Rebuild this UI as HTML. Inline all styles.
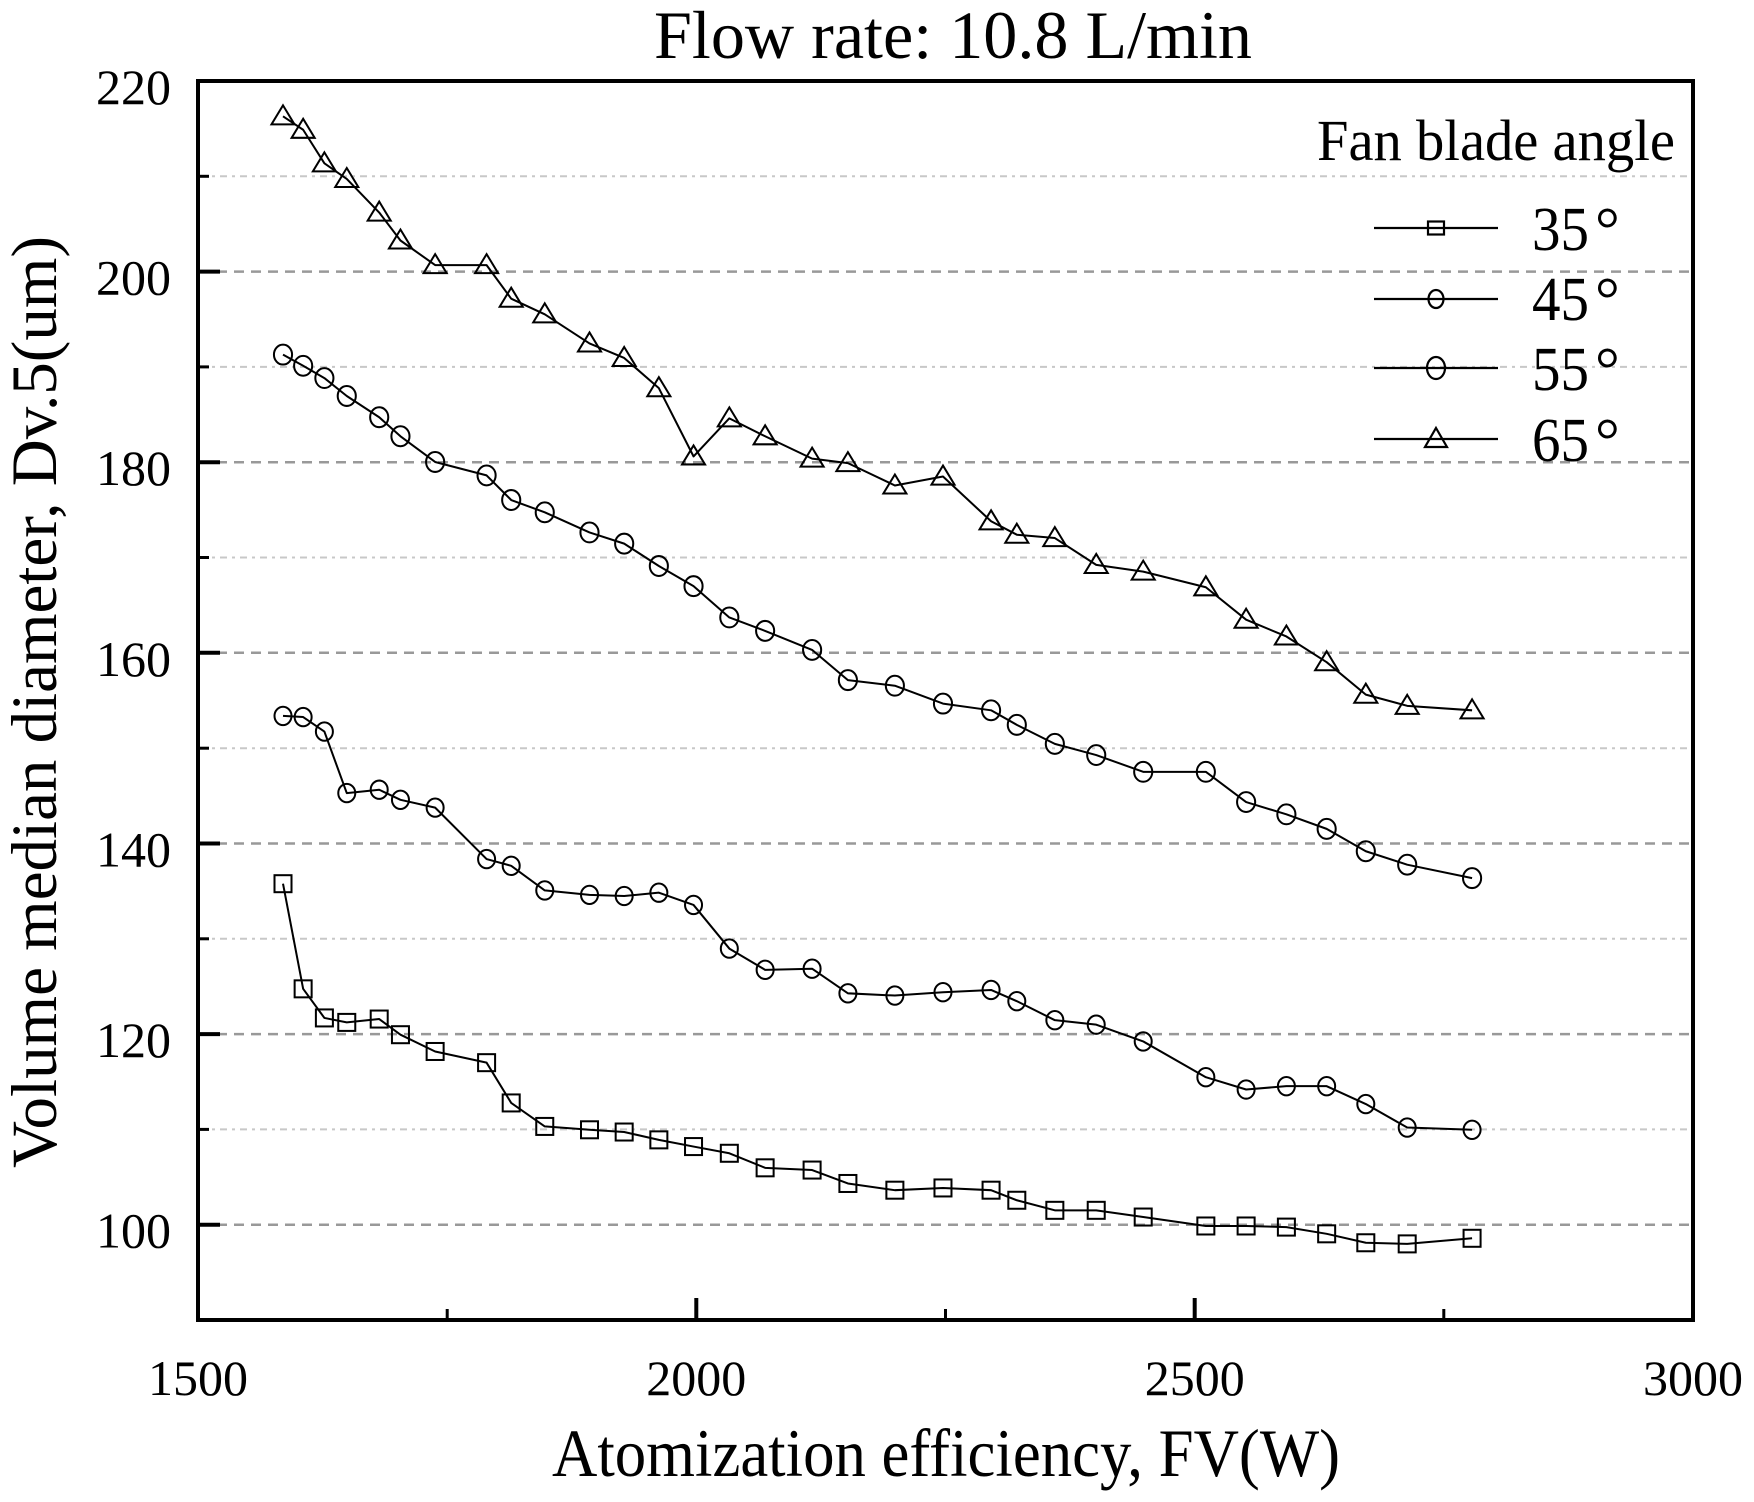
<!DOCTYPE html>
<html><head><meta charset="utf-8"><style>
html,body{margin:0;padding:0;background:#fff;}
svg{display:block;}
text{font-family:"Liberation Serif","Times New Roman",serif;fill:#000;}
</style></head><body>
<svg width="1754" height="1502" viewBox="0 0 1754 1502" xmlns="http://www.w3.org/2000/svg">
<defs>
<rect id="m35" x="-7.6" y="-7.6" width="15.2" height="15.2" fill="none" stroke="#000" stroke-width="1.8"/>
<ellipse id="m45" cx="0" cy="0" rx="7.6" ry="8.2" fill="none" stroke="#000" stroke-width="1.8"/>
<ellipse id="m55" cx="0" cy="0" rx="8.1" ry="8.9" fill="none" stroke="#000" stroke-width="1.8"/>
<polygon id="m65" points="0,-9.8 10.3,7.2 -10.3,7.2" fill="none" stroke="#000" stroke-width="1.8"/>
</defs>
<rect width="1754" height="1502" fill="#fff"/>

<!-- minor gridlines -->
<g stroke="#c8c8c8" stroke-width="2" stroke-dasharray="7 5 3 5" fill="none">
<line x1="200" x2="1691" y1="176.3" y2="176.3"/>
<line x1="200" x2="1691" y1="366.9" y2="366.9"/>
<line x1="200" x2="1691" y1="557.5" y2="557.5"/>
<line x1="200" x2="1691" y1="748.2" y2="748.2"/>
<line x1="200" x2="1691" y1="938.8" y2="938.8"/>
<line x1="200" x2="1691" y1="1129.4" y2="1129.4"/>
</g>
<!-- major gridlines -->
<g stroke="#999" stroke-width="2.5" stroke-dasharray="10 7" fill="none">
<line x1="200" x2="1691" y1="271.6" y2="271.6"/>
<line x1="200" x2="1691" y1="462.2" y2="462.2"/>
<line x1="200" x2="1691" y1="652.8" y2="652.8"/>
<line x1="200" x2="1691" y1="843.5" y2="843.5"/>
<line x1="200" x2="1691" y1="1034.1" y2="1034.1"/>
<line x1="200" x2="1691" y1="1224.7" y2="1224.7"/>
</g>

<!-- data -->
<g transform="scale(1.1186)">
<g fill="none" stroke="#000" stroke-width="1.8" stroke-linejoin="round">
<polyline points="253,104 271,116 290,146 310,160 339,190 358,215 389,237 435,237 457,267 487,281 527,307 558,320 589,347 620,408 652,374 684,390 726,410 758,414 800,434 843,426 886,466 909,478 943,481 980,505 1022,511 1078,525 1114,554 1150,569 1186,592 1221,621 1258,631 1316,635"/>
<polyline points="253,317 271,327 290,338 310,354 339,373 358,390 389,413 435,425 457,447 487,458 527,476 558,486 589,506 620,524 652,552 684,564 726,581 758,608 800,613 843,629 886,635 909,648 943,665 980,675 1022,690 1078,690 1114,717 1150,728 1186,741 1221,761 1258,773 1316,785"/>
<polyline points="253,640 271,641 290,654 310,709 339,706 358,715 389,722 435,768 457,774 487,796 527,800 558,801 589,798 620,809 652,848 684,867 726,866 758,888 800,890 843,887 886,885 909,895 943,912 980,916 1022,931 1078,963 1114,974 1150,971 1186,971 1221,987 1258,1008 1316,1010"/>
<polyline points="253,790 271,884 290,910 310,914 339,911 358,925 389,940 435,950 457,986 487,1007 527,1010 558,1012 589,1019 620,1025 652,1031 684,1044 726,1046 758,1058 800,1064 843,1062 886,1064 909,1073 943,1082 980,1082 1022,1088 1078,1096 1114,1096 1150,1097 1186,1103 1221,1111 1258,1112 1316,1107"/>
</g>
<!-- 65 -->
<use href="#m65" x="253" y="104"/><use href="#m65" x="271" y="116"/><use href="#m65" x="290" y="146"/><use href="#m65" x="310" y="160"/><use href="#m65" x="339" y="190"/><use href="#m65" x="358" y="215"/><use href="#m65" x="389" y="237"/><use href="#m65" x="435" y="237"/><use href="#m65" x="457" y="267"/><use href="#m65" x="487" y="281"/><use href="#m65" x="527" y="307"/><use href="#m65" x="558" y="320"/><use href="#m65" x="589" y="347"/><use href="#m65" x="620" y="408"/><use href="#m65" x="652" y="374"/><use href="#m65" x="684" y="390"/><use href="#m65" x="726" y="410"/><use href="#m65" x="758" y="414"/><use href="#m65" x="800" y="434"/><use href="#m65" x="843" y="426"/><use href="#m65" x="886" y="466"/><use href="#m65" x="909" y="478"/><use href="#m65" x="943" y="481"/><use href="#m65" x="980" y="505"/><use href="#m65" x="1022" y="511"/><use href="#m65" x="1078" y="525"/><use href="#m65" x="1114" y="554"/><use href="#m65" x="1150" y="569"/><use href="#m65" x="1186" y="592"/><use href="#m65" x="1221" y="621"/><use href="#m65" x="1258" y="631"/><use href="#m65" x="1316" y="635"/>
<!-- 55 -->
<use href="#m55" x="253" y="317"/><use href="#m55" x="271" y="327"/><use href="#m55" x="290" y="338"/><use href="#m55" x="310" y="354"/><use href="#m55" x="339" y="373"/><use href="#m55" x="358" y="390"/><use href="#m55" x="389" y="413"/><use href="#m55" x="435" y="425"/><use href="#m55" x="457" y="447"/><use href="#m55" x="487" y="458"/><use href="#m55" x="527" y="476"/><use href="#m55" x="558" y="486"/><use href="#m55" x="589" y="506"/><use href="#m55" x="620" y="524"/><use href="#m55" x="652" y="552"/><use href="#m55" x="684" y="564"/><use href="#m55" x="726" y="581"/><use href="#m55" x="758" y="608"/><use href="#m55" x="800" y="613"/><use href="#m55" x="843" y="629"/><use href="#m55" x="886" y="635"/><use href="#m55" x="909" y="648"/><use href="#m55" x="943" y="665"/><use href="#m55" x="980" y="675"/><use href="#m55" x="1022" y="690"/><use href="#m55" x="1078" y="690"/><use href="#m55" x="1114" y="717"/><use href="#m55" x="1150" y="728"/><use href="#m55" x="1186" y="741"/><use href="#m55" x="1221" y="761"/><use href="#m55" x="1258" y="773"/><use href="#m55" x="1316" y="785"/>
<!-- 45 -->
<use href="#m45" x="253" y="640"/><use href="#m45" x="271" y="641"/><use href="#m45" x="290" y="654"/><use href="#m45" x="310" y="709"/><use href="#m45" x="339" y="706"/><use href="#m45" x="358" y="715"/><use href="#m45" x="389" y="722"/><use href="#m45" x="435" y="768"/><use href="#m45" x="457" y="774"/><use href="#m45" x="487" y="796"/><use href="#m45" x="527" y="800"/><use href="#m45" x="558" y="801"/><use href="#m45" x="589" y="798"/><use href="#m45" x="620" y="809"/><use href="#m45" x="652" y="848"/><use href="#m45" x="684" y="867"/><use href="#m45" x="726" y="866"/><use href="#m45" x="758" y="888"/><use href="#m45" x="800" y="890"/><use href="#m45" x="843" y="887"/><use href="#m45" x="886" y="885"/><use href="#m45" x="909" y="895"/><use href="#m45" x="943" y="912"/><use href="#m45" x="980" y="916"/><use href="#m45" x="1022" y="931"/><use href="#m45" x="1078" y="963"/><use href="#m45" x="1114" y="974"/><use href="#m45" x="1150" y="971"/><use href="#m45" x="1186" y="971"/><use href="#m45" x="1221" y="987"/><use href="#m45" x="1258" y="1008"/><use href="#m45" x="1316" y="1010"/>
<!-- 35 -->
<use href="#m35" x="253" y="790"/><use href="#m35" x="271" y="884"/><use href="#m35" x="290" y="910"/><use href="#m35" x="310" y="914"/><use href="#m35" x="339" y="911"/><use href="#m35" x="358" y="925"/><use href="#m35" x="389" y="940"/><use href="#m35" x="435" y="950"/><use href="#m35" x="457" y="986"/><use href="#m35" x="487" y="1007"/><use href="#m35" x="527" y="1010"/><use href="#m35" x="558" y="1012"/><use href="#m35" x="589" y="1019"/><use href="#m35" x="620" y="1025"/><use href="#m35" x="652" y="1031"/><use href="#m35" x="684" y="1044"/><use href="#m35" x="726" y="1046"/><use href="#m35" x="758" y="1058"/><use href="#m35" x="800" y="1064"/><use href="#m35" x="843" y="1062"/><use href="#m35" x="886" y="1064"/><use href="#m35" x="909" y="1073"/><use href="#m35" x="943" y="1082"/><use href="#m35" x="980" y="1082"/><use href="#m35" x="1022" y="1088"/><use href="#m35" x="1078" y="1096"/><use href="#m35" x="1114" y="1096"/><use href="#m35" x="1150" y="1097"/><use href="#m35" x="1186" y="1103"/><use href="#m35" x="1221" y="1111"/><use href="#m35" x="1258" y="1112"/><use href="#m35" x="1316" y="1107"/>
</g>

<!-- ticks -->
<g stroke="#000" stroke-width="4">
<line x1="198" x2="220" y1="271.6" y2="271.6"/>
<line x1="198" x2="220" y1="462.2" y2="462.2"/>
<line x1="198" x2="220" y1="652.8" y2="652.8"/>
<line x1="198" x2="220" y1="843.5" y2="843.5"/>
<line x1="198" x2="220" y1="1034.1" y2="1034.1"/>
<line x1="198" x2="220" y1="1224.7" y2="1224.7"/>
<line x1="696.3" x2="696.3" y1="1320" y2="1298"/>
<line x1="1194.7" x2="1194.7" y1="1320" y2="1298"/>
</g>
<g stroke="#000" stroke-width="3">
<line x1="198" x2="209" y1="176.3" y2="176.3"/>
<line x1="198" x2="209" y1="366.9" y2="366.9"/>
<line x1="198" x2="209" y1="557.5" y2="557.5"/>
<line x1="198" x2="209" y1="748.2" y2="748.2"/>
<line x1="198" x2="209" y1="938.8" y2="938.8"/>
<line x1="198" x2="209" y1="1129.4" y2="1129.4"/>
<line x1="447.2" x2="447.2" y1="1320" y2="1309"/>
<line x1="945.5" x2="945.5" y1="1320" y2="1309"/>
<line x1="1443.8" x2="1443.8" y1="1320" y2="1309"/>
</g>

<!-- frame -->
<rect x="198" y="81" width="1495" height="1239" fill="none" stroke="#000" stroke-width="4"/>

<!-- y tick labels -->
<g font-size="50" text-anchor="end">
<text x="171" y="104">220</text>
<text x="171" y="294.6">200</text>
<text x="171" y="485.2">180</text>
<text x="171" y="675.8">160</text>
<text x="171" y="866.5">140</text>
<text x="171" y="1057.1">120</text>
<text x="171" y="1247.7">100</text>
</g>
<!-- x tick labels -->
<g font-size="50" text-anchor="middle">
<text x="198" y="1395">1500</text>
<text x="696.3" y="1395">2000</text>
<text x="1194.7" y="1395">2500</text>
<text x="1693" y="1395">3000</text>
</g>

<!-- titles -->
<text x="953" y="58" font-size="68" text-anchor="middle" textLength="598" lengthAdjust="spacingAndGlyphs">Flow rate: 10.8 L/min</text>
<text x="946" y="1476" font-size="68" text-anchor="middle" textLength="788" lengthAdjust="spacingAndGlyphs">Atomization efficiency, FV(W)</text>
<text transform="translate(56,702) rotate(-90)" x="0" y="0" font-size="65" text-anchor="middle" textLength="932" lengthAdjust="spacingAndGlyphs">Volume median diameter, Dv.5(um)</text>

<!-- legend -->
<text x="1317" y="160" font-size="58" textLength="358" lengthAdjust="spacingAndGlyphs">Fan blade angle</text>
<g stroke="#000" stroke-width="2.2" fill="none">
<line x1="1374" x2="1498" y1="228" y2="228"/>
<line x1="1374" x2="1498" y1="299" y2="299"/>
<line x1="1374" x2="1498" y1="368" y2="368"/>
<line x1="1374" x2="1498" y1="439" y2="439"/>
<rect x="1428" y="221.5" width="16" height="13"/>
<ellipse cx="1436" cy="299" rx="7.5" ry="9"/>
<ellipse cx="1436" cy="368" rx="9" ry="11"/>
<polygon points="1436,428 1447,447 1425,447"/>
</g>
<g font-size="62">
<text x="1532" y="250" textLength="57" lengthAdjust="spacingAndGlyphs">35</text><text x="1595" y="250">°</text>
<text x="1532" y="320" textLength="57" lengthAdjust="spacingAndGlyphs">45</text><text x="1595" y="320">°</text>
<text x="1532" y="390" textLength="57" lengthAdjust="spacingAndGlyphs">55</text><text x="1595" y="390">°</text>
<text x="1532" y="461" textLength="57" lengthAdjust="spacingAndGlyphs">65</text><text x="1595" y="461">°</text>
</g>
</svg>
</body></html>
